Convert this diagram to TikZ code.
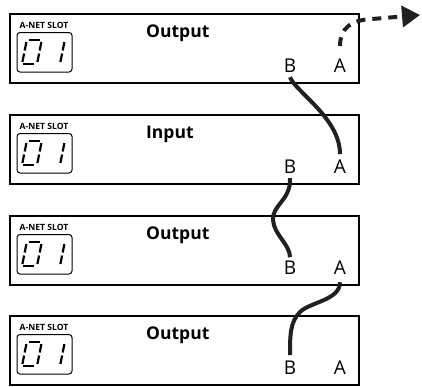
\documentclass[tikz,border=0pt]{standalone}
\usepackage{fontspec}
\setmainfont{Open Sans}
\usetikzlibrary{arrows.meta}
\definecolor{cablecol}{HTML}{231F20}
\tikzset{
  anetbox/.style={draw=black, line width=2pt, minimum width=349pt, minimum height=69pt, inner sep=0pt, anchor=north west},
  anetdisplay/.style={draw=black, line width=1pt, rounded corners=3pt},
  anetseg/.style={line width=2.2pt},
  anetport/.style={font=\fontsize{19}{19}\selectfont, inner sep=0pt, anchor=base},
  anettitle/.style={font=\bfseries\fontsize{17.5}{17.5}\selectfont, inner sep=0pt, anchor=base west},
  anetslot/.style={font=\bfseries\fontsize{8.6}{8.6}\selectfont, inner sep=0pt},
  anetcable/.style={draw=cablecol, line width=4pt},
}
\newcommand{\anetunit}[3]{%
  \node[anetbox] (box#1) at (9,#2) {};
  \node[anetslot] (slot#1) at (44,#2+12.5) {A-NET SLOT};
  \draw[anetdisplay] (17,#2+19.5) rectangle (72,#2+59);
  \begin{scope}[shift={(22,#2+51)}, xslant=0.2]
    \draw[anetseg] (2,-24) -- (13,-24);
    \draw[anetseg] (1,0) -- (12,0);
    \draw[anetseg] (0,-22) -- (0,-13.5);
    \draw[anetseg] (0,-10.5) -- (0,-2);
    \draw[anetseg] (15,-22) -- (15,-13.5);
    \draw[anetseg] (15,-10.5) -- (15,-2);
  \end{scope}
  \begin{scope}[shift={(45,#2+51)}, xslant=0.2]
    \draw[anetseg] (15,-22) -- (15,-13.5);
    \draw[anetseg] (15,-10.5) -- (15,-2);
  \end{scope}
  \node[anettitle] (title#1) at (146,#2+24) {#3};
  \node[anetport] (b#1) at (290,#2+59) {B};
  \node[anetport] (a#1) at (340,#2+59) {A};
}
\begin{document}
\begin{tikzpicture}[x=1pt,y=-1pt]
  \useasboundingbox (0,0) rectangle (422,386);
  \anetunit{1}{13}{Output}
  \anetunit{2}{114}{Input}
  \anetunit{3}{215}{Output}
  \anetunit{4}{315}{Output}
  \coordinate (out) at (420,15);
  % cables
  \draw[anetcable] ([yshift=-5pt]b1.south) .. controls +(6,15) and +(0,-36) .. ([yshift=5pt]a2.north);
  \draw[anetcable] ([yshift=-5pt]b2.south) .. controls +(1,22) and +(-1,-15) .. (273,220) .. controls +(1,15) and +(0,-13) .. ([yshift=3pt]b3.north);
  \draw[anetcable] ([yshift=-8pt]a3.south) .. controls +(0,18) and +(10,-10) .. (300,312) .. controls +(-10,10) and +(0,-20) .. ([yshift=5pt]b4.north);
  \draw[anetcable, dash pattern=on 9pt off 7pt, -{Triangle[length=18pt,width=21pt]}] ([yshift=12pt]a1.north) .. controls +(0,-19) and +(-20,1) .. (372,19) -- (out);
\end{tikzpicture}
\end{document}
